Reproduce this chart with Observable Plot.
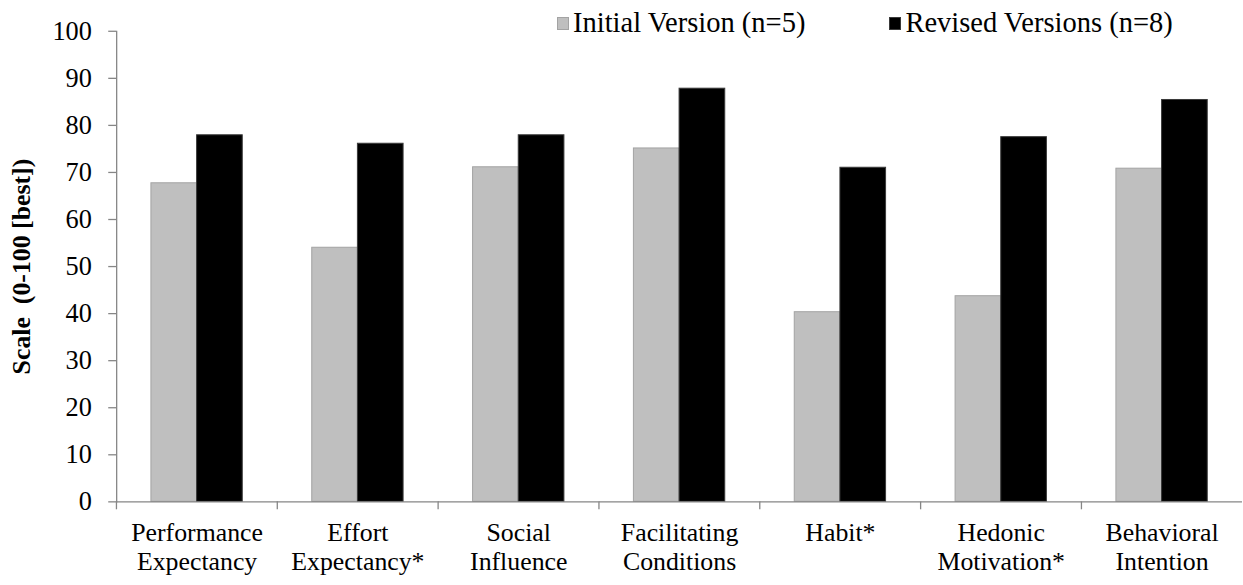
<!DOCTYPE html>
<html>
<head>
<meta charset="utf-8">
<script src="https://cdn.jsdelivr.net/npm/d3@7"></script>
<script src="https://cdn.jsdelivr.net/npm/@observablehq/plot@0.6"></script>
<style>
  html, body { margin: 0; padding: 0; background: #fff; }
  #wrap { position: relative; width: 1243px; height: 585px; overflow: hidden; font-family: "Liberation Serif", "Times New Roman", serif; }
  #wrap svg, #wrap svg text { font-family: "Liberation Serif", "Times New Roman", serif !important; }
  #legend { position: absolute; left: 557px; top: 7px; display: flex; align-items: center; font-size: 28.5px; color: #000; white-space: nowrap; }
  .sw { display: inline-block; width: 12px; height: 13px; margin-right: 4px; box-sizing: border-box; }
  .item { display: flex; align-items: center; }
</style>
</head>
<body>
<div id="wrap"><div id="legend"></div></div>
<script>
// ---- data ----
const categories = ["Performance Expectancy", "Effort Expectancy*", "Social Influence", "Facilitating Conditions", "Habit*", "Hedonic Motivation*", "Behavioral Intention"];
const categoryLabels = ["Performance\nExpectancy", "Effort\nExpectancy*", "Social\nInfluence", "Facilitating\nConditions", "Habit*", "Hedonic\nMotivation*", "Behavioral\nIntention"];
const seriesNames = ["Initial Version (n=5)", "Revised Versions (n=8)"];
const initialValues = [67.7, 54.0, 71.1, 75.1, 40.3, 43.7, 70.8];
const revisedValues = [77.9, 76.1, 77.9, 87.8, 71.0, 77.5, 85.4];
const yTicks = [0, 10, 20, 30, 40, 50, 60, 70, 80, 90, 100];
const yLabel = "Scale\u00a0\u00a0(0-100 [best])";

// ---- styles ----
const FONT = '"Liberation Serif", "Times New Roman", serif';
const AXIS = "#868686";
const fills = ["#bfbfbf", "#000000"];
const strokes = ["#a3a3a3", "#3a3a3a"];

const rows = [];
categories.forEach((c, i) => {
  rows.push({category: c, series: seriesNames[0], value: initialValues[i]});
  rows.push({category: c, series: seriesNames[1], value: revisedValues[i]});
});
const labelOf = new Map(categories.map((c, i) => [c, categoryLabels[i]]));

const W = 1252, ML = 115;
const step = (W - ML) / categories.length;

const chart = Plot.plot({
  width: W, height: 585,
  marginLeft: ML, marginRight: 0, marginTop: 31, marginBottom: 80,
  style: 'font-family: "Liberation Serif", "Times New Roman", serif; font-size: 26px; color: #000; background: transparent; overflow: visible;',
  fx: {domain: categories, padding: 0, label: null, axis: null},
  x: {domain: seriesNames, paddingInner: 0, paddingOuter: 0.734, axis: null},
  y: {domain: [0, 100], axis: null},
  marks: [
    Plot.barY(rows.filter(d => d.series === seriesNames[0]), {fx: "category", x: "series", y: "value", fill: fills[0], stroke: strokes[0], strokeWidth: 1}),
    Plot.barY(rows.filter(d => d.series === seriesNames[1]), {fx: "category", x: "series", y: "value", fill: fills[1], stroke: strokes[1], strokeWidth: 1}),
    Plot.ruleY([0], {stroke: AXIS, strokeWidth: 1.3}),
    Plot.frame({anchor: "left", facetAnchor: "left", stroke: AXIS, strokeWidth: 1.3}),
    Plot.axisY({ticks: yTicks, tickSize: 8, tickPadding: 17, stroke: AXIS, strokeWidth: 1.3, fill: "#000", fontSize: 26.5, fontFamily: FONT, label: null}),
    Plot.axisY({ticks: [], tickSize: 0, label: yLabel, labelAnchor: "center", labelArrow: "none", labelOffset: 106, fontSize: 26, fontFamily: FONT, fontWeight: "bold", fill: "#000"}),
    Plot.axisFx({anchor: "bottom", tickSize: 0, tickPadding: 19.5, fontSize: 26, fontFamily: FONT, lineHeight: 1.1, fill: "#000", tickFormat: d => labelOf.get(d), label: null}),
    Plot.axisFx({anchor: "bottom", tickSize: 8, tickFormat: null, dx: -step / 2, stroke: AXIS, strokeWidth: 1.3, label: null})
  ]
});
document.getElementById("wrap").appendChild(chart);

// ---- legend (HTML) ----
const legend = document.getElementById("legend");
seriesNames.forEach((name, i) => {
  const item = document.createElement("div");
  item.className = "item";
  if (i > 0) item.style.marginLeft = "84px";
  const sw = document.createElement("span");
  sw.className = "sw";
  sw.style.background = fills[i];
  sw.style.border = "1px solid " + strokes[i];
  const t = document.createElement("span");
  t.textContent = name;
  item.appendChild(sw);
  item.appendChild(t);
  legend.appendChild(item);
});
</script>
</body>
</html>
